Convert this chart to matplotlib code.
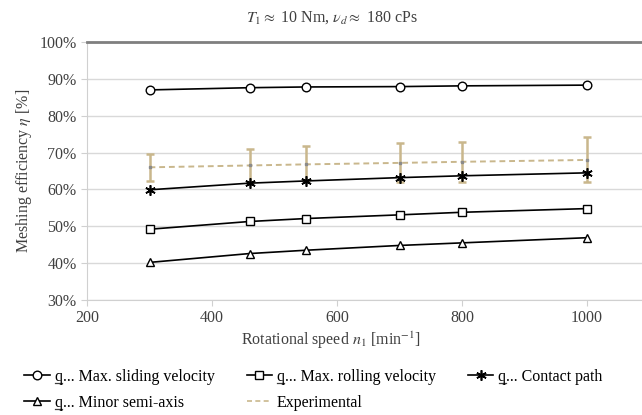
import matplotlib
matplotlib.use("Agg")
import matplotlib.pyplot as plt
from matplotlib.lines import Line2D
from matplotlib.ticker import PercentFormatter

# data
speed = [300, 460, 550, 700, 800, 1000]
q_sliding = [87.0, 87.6, 87.8, 87.9, 88.1, 88.3]
q_rolling = [49.2, 51.3, 52.1, 53.1, 53.8, 54.8]
q_contact = [59.9, 61.7, 62.3, 63.2, 63.7, 64.5]
q_minor = [40.2, 42.6, 43.5, 44.8, 45.5, 46.9]
experimental = [66.0, 66.5, 66.8, 67.2, 67.5, 68.0]
exp_err_low = [3.7, 4.4, 4.3, 5.2, 5.4, 6.0]
exp_err_high = [3.6, 4.5, 5.0, 5.3, 5.4, 6.2]

plt.rcParams['font.family'] = ['Liberation Serif', 'DejaVu Serif']
plt.rcParams['mathtext.fontset'] = 'stix'

W, H = 642, 415
fig = plt.figure(figsize=(W / 100, H / 100), dpi=100)
ax = fig.add_axes([87 / W, 115 / H, 555 / W, 258 / H])

tan = '#c9b78c'
txt = '#404040'
ax.errorbar(speed, experimental, yerr=[exp_err_low, exp_err_high], fmt='none',
            ecolor=tan, elinewidth=1.8, capsize=3, capthick=1.8, zorder=2)
ax.plot(speed, experimental, ls=(0, (3, 2)), color=tan, lw=1.4, zorder=2)
ax.plot(speed, experimental, ls='none', marker='s', ms=2, color='#8a8a8a', zorder=3)

mk = dict(color='black', lw=1.2, ms=6.2, mfc='white', mec='black', mew=1.0, zorder=4)
l_sl, = ax.plot(speed, q_sliding, marker='o', **mk)
l_ro, = ax.plot(speed, q_rolling, marker='s', **mk)
l_co, = ax.plot(speed, q_contact, marker=(6, 2, 0), color='black', lw=1.2, ms=7.5, mew=1.2, zorder=4)
l_mi, = ax.plot(speed, q_minor, marker='^', **mk)
l_ex, = ax.plot([], [], ls=(0, (3, 2)), color=tan, lw=1.2)

ax.set_xlim(200, 1088)
ax.set_ylim(30, 100)
ax.set_xticks([200, 400, 600, 800, 1000])
ax.set_yticks(range(30, 101, 10))
ax.yaxis.set_major_formatter(PercentFormatter(decimals=0))
ax.grid(axis='y', color='#d9d9d9', lw=1.0)
ax.set_axisbelow(True)
for s in ['left', 'bottom']:
    ax.spines[s].set_color('#d0d0d0')
ax.spines['right'].set_visible(False)
ax.spines['top'].set_color('#7f7f7f')
ax.spines['top'].set_linewidth(2.0)
ax.tick_params(axis='both', colors='#d0d0d0', labelcolor=txt, labelsize=11.5, length=4)

# titles are centred on the chart area, not on the plot area
ax.set_xlabel(r'Rotational speed $n_1$ [min$^{-1}$]', fontsize=11.5, color=txt)
ax.xaxis.set_label_coords((331 - 87) / 555, -0.115)
ax.set_ylabel(r'Meshing efficiency $\eta$ [%]', fontsize=11.5, color=txt)
ax.yaxis.set_label_coords(-0.095, 0.5)
fig.text(332 / W, 1 - 18 / H, r'$T_1 \approx$ 10 Nm, $\nu_d \approx$ 180 cPs',
         fontsize=11.5, color=txt, ha='center', va='center')

handles = [l_sl, l_mi, l_ro, l_ex, l_co]
labels = ['q... Max. sliding velocity', 'q... Minor semi-axis',
          'q... Max. rolling velocity', 'Experimental', 'q... Contact path']
leg = fig.legend(handles, labels, ncol=3, loc='upper left', bbox_to_anchor=(0.023, 0.135),
                 frameon=False, fontsize=11.5, handlelength=1.6, handletextpad=0.3,
                 columnspacing=2.0, labelspacing=0.65, borderaxespad=0.2)

# underline the leading "q" in the legend labels
fig.canvas.draw()
r = fig.canvas.get_renderer()
for t in leg.get_texts():
    if not t.get_text().startswith('q'):
        continue
    bb = t.get_window_extent(r)
    tmp = fig.text(0, 0, 'q', fontproperties=t.get_fontproperties())
    wq = tmp.get_window_extent(r).width
    tmp.remove()
    y = (bb.y0 + 1.5) / H
    fig.add_artist(Line2D([(bb.x0 + 0.5) / W, (bb.x0 + wq - 0.5) / W], [y, y],
                          transform=fig.transFigure, color=txt, lw=0.9))

fig.savefig('out.png', dpi=100)
